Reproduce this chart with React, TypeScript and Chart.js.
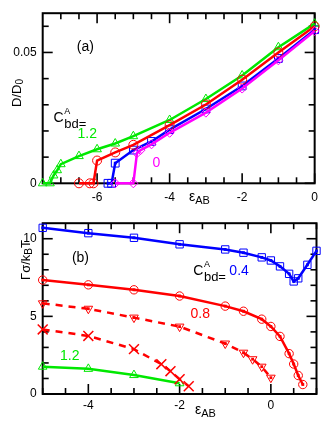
import React, { useEffect, useRef } from 'react';
import { Chart, registerables } from 'chart.js';
Chart.register(...registerables);

const FONT = '"Liberation Sans", Arial, Helvetica, sans-serif';
const GREEN = '#00e800';
const RED = '#ff0000';
const BLUE = '#0000ff';
const MAGENTA = '#ff00ff';

// ---------- panel (a): D/D0 vs eps_AB ----------
const aXTicks = [-7, -6.5, -6, -5.5, -5, -4.5, -4, -3.5, -3, -2.5, -2, -1.5, -1, -0.5, 0];
const aXLabels = [-6, -4, -2, 0];
const aYTicks = [0, 0.01, 0.02, 0.03, 0.04, 0.05, 0.06];
const aYLabels = [0, 0.05];

const aGreenX = [-7.5, -7.3, -7.2, -7.1, -7.0, -6.5, -6.0, -5.5, -5.0, -4.0, -3.0, -2.0, -1.0, 0];
const aGreenY = [0, 0, 0.003, 0.005, 0.0073, 0.0104, 0.013, 0.0152, 0.018, 0.0242, 0.0322, 0.0412, 0.052, 0.061];

const aRedX = [-6.5, -6.2, -6.1, -6.0, -5.5, -5.0, -4.0, -3.0, -2.0, -1.0, 0];
const aRedY = [0, 0, 0, 0.0087, 0.0118, 0.0147, 0.0222, 0.0301, 0.0396, 0.05, 0.06];

const aBlueX = [-5.7, -5.6, -5.5, -5.0, -4.5, -4.0, -3.0, -2.0, -1.0, 0];
const aBlueY = [0, 0, 0.0077, 0.0127, 0.016, 0.0205, 0.0284, 0.0372, 0.0477, 0.0587];

const aMagX = [-5.5, -5.0, -4.9, -4.8, -4.5, -4.0, -3.0, -2.0, -1.0, 0];
const aMagY = [0, 0, 0.0115, 0.0127, 0.0149, 0.0193, 0.027, 0.0362, 0.047, 0.0582];

// ---------- panel (b): Gamma sigma / kBT vs eps_AB ----------
const bXTicks = [-5, -4.5, -4, -3.5, -3, -2.5, -2, -1.5, -1, -0.5, 0, 0.5, 1];
const bXLabels = [-4, -2, 0];
const bYTicks = [0, 1, 2, 3, 4, 5, 6, 7, 8, 9, 10];
const bYLabels = [0, 5, 10];

const bBlueX = [-5, -4, -3, -2, -1, -0.6, -0.2, 0, 0.2, 0.4, 0.5, 0.6, 0.8, 1.0];
const bBlueY = [10.7, 10.36, 10.06, 9.64, 9.31, 9.1, 8.8, 8.6, 8.22, 7.74, 7.25, 7.45, 8.32, 9.22];

const bRedX = [-5, -4, -3, -2, -1, -0.6, -0.2, 0, 0.2, 0.4, 0.5, 0.6, 0.7];
const bRedY = [7.34, 7.03, 6.71, 6.31, 5.66, 5.33, 4.82, 4.35, 3.71, 2.6, 1.93, 1.19, 0.61];

const bTriX = [-5, -4, -3, -2, -1, -0.6, -0.4, -0.2, 0];
const bTriY = [5.84, 5.49, 4.92, 4.34, 3.25, 2.66, 2.24, 1.76, 1.05];

const bCrossX = [-5, -4, -3, -2.4, -2.2, -2.0, -1.8];
const bCrossY = [4.16, 3.74, 2.89, 1.92, 1.47, 0.95, 0.5];

const bGreenX = [-5, -4, -3, -2];
const bGreenY = [1.76, 1.62, 1.22, 0.69];

function pts(xs: number[], ys: number[]) {
  return xs.map((x, i) => ({ x, y: ys[i] }));
}

function axis(min: number, max: number, ticks: number[], labels: number[], fit: number, horizontal: boolean, pad: number) {
  return {
    type: 'linear',
    min,
    max,
    grid: { display: false, drawTicks: false },
    border: { display: false },
    afterBuildTicks: (s: any) => {
      s.ticks = ticks.map((v) => ({ value: v }));
    },
    afterFit: (s: any) => {
      if (horizontal) s.height = fit;
      else s.width = fit;
    },
    ticks: {
      autoSkip: false,
      maxRotation: 0,
      minRotation: 0,
      padding: pad,
      color: '#000',
      font: { family: FONT, size: 12 },
      callback: (v: number) => (labels.includes(v) ? String(v) : ''),
    },
  };
}

const framePlugin = {
  id: 'frame',
  beforeDatasetsDraw(chart: any) {
    const { ctx, chartArea: a, scales } = chart;
    ctx.save();
    ctx.strokeStyle = '#000';
    ctx.lineWidth = 2;
    ctx.strokeRect(a.left, a.top, a.right - a.left, a.bottom - a.top);
    ctx.lineWidth = 1.6;
    const seg = (x1: number, y1: number, x2: number, y2: number) => {
      ctx.beginPath();
      ctx.moveTo(x1, y1);
      ctx.lineTo(x2, y2);
      ctx.stroke();
    };
    for (const t of scales.x.ticks) {
      const p = scales.x.getPixelForValue(t.value);
      const len = t.label ? 10 : 6;
      seg(p, a.bottom, p, a.bottom - len);
      seg(p, a.top, p, a.top + len);
    }
    for (const t of scales.y.ticks) {
      const p = scales.y.getPixelForValue(t.value);
      const len = t.label ? 10 : 6;
      seg(a.left, p, a.left + len, p);
      seg(a.right, p, a.right - len, p);
    }
    ctx.restore();
  },
};

type Part = { t: string; s: number; c: string; dy?: number; stack?: boolean; gap?: number };
type Note = { x: number; y: number; parts: Part[] };
type Title = { px: number; py: number; rotate?: boolean; center?: boolean; parts: Part[] };

function drawParts(ctx: CanvasRenderingContext2D, x: number, y: number, parts: Part[]) {
  let cx = x;
  let stackStart = x;
  let stackMax = 0;
  for (const p of parts) {
    ctx.font = `${p.s}px ${FONT}`;
    ctx.fillStyle = p.c;
    const w = ctx.measureText(p.t).width;
    if (p.stack) {
      ctx.fillText(p.t, stackStart, y + (p.dy || 0));
      stackMax = Math.max(stackMax, w);
      cx = stackStart + stackMax + (p.gap || 0);
    } else {
      ctx.fillText(p.t, cx, y + (p.dy || 0));
      stackStart = cx + w + (p.gap || 0);
      stackMax = 0;
      cx = stackStart;
    }
  }
}

function partsWidth(ctx: CanvasRenderingContext2D, parts: Part[]) {
  let total = 0;
  for (const p of parts) {
    ctx.font = `${p.s}px ${FONT}`;
    total += ctx.measureText(p.t).width + (p.gap || 0);
  }
  return total;
}

function makeText(notes: Note[], titles: Title[]) {
  return {
    id: 'texts',
    afterDraw(chart: any) {
      const { ctx, scales } = chart;
      ctx.save();
      ctx.textBaseline = 'middle';
      ctx.textAlign = 'left';
      for (const n of notes) {
        drawParts(ctx, scales.x.getPixelForValue(n.x), scales.y.getPixelForValue(n.y), n.parts);
      }
      for (const t of titles) {
        ctx.save();
        ctx.translate(t.px, t.py);
        if (t.rotate) ctx.rotate(-Math.PI / 2);
        const w = t.center ? partsWidth(ctx, t.parts) : 0;
        drawParts(ctx, -w / 2, 0, t.parts);
        ctx.restore();
      }
      ctx.restore();
    },
  };
}

function ds(label: string, data: any[], color: string, style: string, radius: number, extra: any = {}) {
  return {
    label,
    data,
    borderColor: color,
    borderWidth: 2.5,
    pointStyle: style,
    pointRadius: radius,
    pointBorderColor: color,
    pointBackgroundColor: 'rgba(0,0,0,0)',
    pointBorderWidth: 1,
    fill: false,
    clip: false,
    ...extra,
  };
}

function dots(label: string, data: any[], color: string) {
  return {
    label,
    data,
    showLine: false,
    pointStyle: 'rect',
    pointRadius: 2,
    pointBorderWidth: 0,
    pointBackgroundColor: color,
    pointBorderColor: color,
    clip: false,
  };
}

const CBD = (color: string): Part[] => [
  { t: 'C', s: 14, c: color },
  { t: 'A', s: 9, c: color, dy: -7, stack: false, gap: -7 },
];

function configA(): any {
  const notes: Note[] = [
    { x: -6.56, y: 0.052, parts: [{ t: '(a)', s: 14, c: '#000' }] },
    {
      x: -7.2,
      y: 0.0249,
      parts: [
        { t: 'C', s: 14, c: '#000', gap: 0.5 },
        { t: 'A', s: 9, c: '#000', dy: -7, stack: true },
        { t: 'bd=', s: 13, c: '#000', dy: 6.5, stack: true },
      ],
    },
    { x: -6.54, y: 0.0186, parts: [{ t: '1.2', s: 14, c: GREEN }] },
    { x: -4.47, y: 0.0076, parts: [{ t: '0', s: 14, c: MAGENTA }] },
  ];
  const titles: Title[] = [
    { px: 17, py: 93, rotate: true, center: true, parts: [{ t: 'D/D', s: 13, c: '#000' }, { t: '0', s: 10, c: '#000', dy: 3 }] },
    { px: 189, py: 197, parts: [{ t: 'ε', s: 14, c: '#000' }, { t: 'AB', s: 11, c: '#000', dy: 4 }] },
  ];
  return {
    type: 'line',
    data: {
      datasets: [
        ds('mag', pts(aMagX, aMagY), MAGENTA, 'rectRot', 4.5),
        ds('red', pts(aRedX, aRedY), RED, 'circle', 4.5),
        ds('green', pts(aGreenX, aGreenY), GREEN, 'triangle', 5),
        ds('blue', pts(aBlueX, aBlueY), BLUE, 'rect', 5.5),
        dots('blue-c', pts(aBlueX, aBlueY), BLUE),
      ],
    },
    options: {
      responsive: false,
      animation: false,
      events: [],
      layout: { padding: { left: 0, right: 8, top: 9.3, bottom: 0 } },
      plugins: { legend: { display: false }, tooltip: { enabled: false } },
      scales: {
        x: axis(-7.5, 0, aXTicks, aXLabels, 26.7, true, 7),
        y: axis(0, 0.065, aYTicks, aYLabels, 42.7, false, 6),
      },
    },
    plugins: [framePlugin, makeText(notes, titles)],
  };
}

function configB(): any {
  const notes: Note[] = [
    { x: -4.36, y: 8.74, parts: [{ t: '(b)', s: 14, c: '#000' }] },
    {
      x: -1.7,
      y: 7.92,
      parts: [
        { t: 'C', s: 14, c: '#000', gap: 0.5 },
        { t: 'A', s: 9, c: '#000', dy: -7, stack: true },
        { t: 'bd=', s: 13, c: '#000', dy: 6.5, stack: true },
      ],
    },
    { x: -0.91, y: 7.92, parts: [{ t: '0.4', s: 14, c: BLUE }] },
    { x: -1.76, y: 5.16, parts: [{ t: '0.8', s: 14, c: RED }] },
    { x: -4.62, y: 2.45, parts: [{ t: '1.2', s: 14, c: GREEN }] },
  ];
  const titles: Title[] = [
    {
      px: 26,
      py: 50,
      rotate: true,
      center: true,
      parts: [
        { t: 'Γσ/k', s: 13, c: '#000' },
        { t: 'B', s: 10, c: '#000', dy: 3 },
        { t: 'T', s: 13, c: '#000' },
      ],
    },
    { px: 195, py: 200, parts: [{ t: 'ε', s: 14, c: '#000' }, { t: 'AB', s: 11, c: '#000', dy: 4 }] },
  ];
  const dash = { borderDash: [7, 6] };
  return {
    type: 'line',
    data: {
      datasets: [
        ds('blue', pts(bBlueX, bBlueY), BLUE, 'rect', 5.2),
        dots('blue-c', pts(bBlueX, bBlueY), BLUE),
        ds('red', pts(bRedX, bRedY), RED, 'circle', 4.2),
        dots('red-c', pts(bRedX, bRedY), RED),
        ds('tri', pts(bTriX, bTriY), RED, 'triangle', 5, { ...dash, pointRotation: 180 }),
        dots('tri-c', pts(bTriX, bTriY), RED),
        ds('cross', pts(bCrossX, bCrossY), RED, 'crossRot', 7, { ...dash, pointBorderWidth: 1.5 }),
        ds('green', pts(bGreenX, bGreenY), GREEN, 'triangle', 5),
      ],
    },
    options: {
      responsive: false,
      animation: false,
      events: [],
      layout: { padding: { left: 0, right: 8, top: 9, bottom: 0 } },
      plugins: { legend: { display: false }, tooltip: { enabled: false } },
      scales: {
        x: axis(-5, 1, bXTicks, bXLabels, 35, true, 4),
        y: axis(0, 11, bYTicks, bYLabels, 42.7, false, 6),
      },
    },
    plugins: [framePlugin, makeText(notes, titles)],
  };
}

export default function App() {
  const refA = useRef<HTMLCanvasElement>(null);
  const refB = useRef<HTMLCanvasElement>(null);
  useEffect(() => {
    const ca = new Chart(refA.current as HTMLCanvasElement, configA());
    const cb = new Chart(refB.current as HTMLCanvasElement, configB());
    return () => {
      ca.destroy();
      cb.destroy();
    };
  }, []);
  return (
    <div style={{ position: 'absolute', left: 0, top: 0, width: 325, height: 429, background: '#fff' }}>
      <canvas ref={refA} width={325} height={210} style={{ position: 'absolute', left: 0, top: 0 }} />
      <canvas ref={refB} width={325} height={219} style={{ position: 'absolute', left: 0, top: 210 }} />
    </div>
  );
}
